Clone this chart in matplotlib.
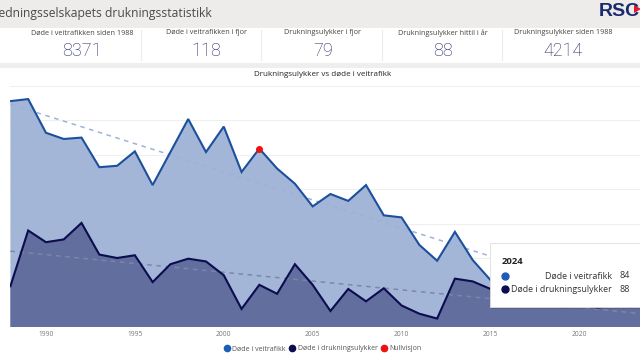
import numpy as np
import matplotlib
matplotlib.use("Agg")
import matplotlib.pyplot as plt
from matplotlib.patches import Rectangle, Polygon
from matplotlib.lines import Line2D

plt.rcParams['font.family'] = ['Open Sans', 'DejaVu Sans']

# ---------------- data ----------------
years = list(range(1988, 2025))
road_deaths = [378, 381, 332, 323, 325, 282, 284, 305, 256, 304, 352, 304, 341, 275,
               309, 280, 258, 225, 243, 233, 256, 212, 209, 169, 146, 188, 147, 118,
               135, 106, 108, 108, 93, 80, 104, 118, 84]
drowning = [109, 190, 173, 177, 201, 155, 150, 154, 115, 141, 149, 145, 125, 76,
            111, 98, 141, 111, 73, 105, 87, 106, 81, 69, 62, 120, 116, 105,
            92, 88, 100, 79, 84, 78, 81, 79, 88]
nullvisjon_year = 2002
xtick_years = [1990, 1995, 2000, 2005, 2010, 2015, 2020]
ygrid_values = [100, 150, 200, 250, 300, 350, 400]

kpi_labels = ["Døde i veitrafikken siden 1988", "Døde i veitrafikken i fjor",
              "Drukningsulykker i fjor", "Drukningsulykker hittil i år",
              "Drukningsulykker siden 1988"]
kpi_values = [sum(road_deaths), road_deaths[-2], drowning[-2], drowning[-1], sum(drowning)]

series_names = ["Døde i veitrafikk", "Døde i drukningsulykker", "Nullvisjon"]

# ---------------- style ----------------
ROAD_LINE = '#1c4f9c'
ROAD_FILL = '#a3b6d8'
DROWN_LINE = '#0c0c4e'
DROWN_FILL = '#616e9e'
ROAD_DOT = '#1f5cb8'
W, H = 640, 360

fig = plt.figure(figsize=(6.4, 3.6), dpi=100)
fig.patch.set_facecolor('white')

def fx(px):
    return px / W

def fy(py):
    return 1 - py / H

# header band
fig.add_artist(Rectangle((0, fy(28)), 1, 28 / H, transform=fig.transFigure,
                         facecolor='#edecea', edgecolor='none', zorder=0))
fig.add_artist(Rectangle((0, fy(68)), 1, 5 / H, transform=fig.transFigure,
                         facecolor='#efeeec', edgecolor='none', zorder=0))
fig.text(fx(212), fy(14), "Redningsselskapets drukningsstatistikk", ha='right', va='center',
         fontsize=8.7, color='#4a4a4a')
fig.text(fx(599), fy(11), "RSC", ha='left', va='center', fontsize=14, fontweight='bold',
         color='#1b2a6e', family=['Liberation Sans', 'DejaVu Sans'])
fig.add_artist(Polygon([[fx(634), fy(5)], [fx(641), fy(9)], [fx(634), fy(13)]],
                       closed=True, transform=fig.transFigure, facecolor='#e4172b',
                       edgecolor='none'))

# KPI row
kpi_centers = [82, 206, 323, 443, 563]
for cx, lab, val in zip(kpi_centers, kpi_labels, kpi_values):
    fig.text(fx(cx), fy(33), lab, ha='center', va='center', fontsize=5.2, color='#444444')
    fig.text(fx(cx), fy(51), f"{val}", ha='center', va='center', fontsize=13,
             color='#1e2160', fontweight='light', family=['Roboto', 'DejaVu Sans'])
for sx in [141, 261, 382, 502]:
    fig.add_artist(Line2D([fx(sx), fx(sx)], [fy(30), fy(60)], transform=fig.transFigure,
                          color='#ececec', lw=0.8))

# chart title
fig.text(fx(323), fy(75), "Drukningsulykker vs døde i veitrafikk", ha='center', va='center',
         fontsize=5.8, color='#252423')

# ---------------- chart ----------------
ax = fig.add_axes([fx(10.4), (H - 326.8) / H, 640.1 / W, 240.8 / H])
ax.set_xlim(years[0], years[-1])
ax.set_ylim(50, 400)
ax.set_facecolor('none')
for s in ax.spines.values():
    s.set_visible(False)
ax.set_yticks(ygrid_values)
ax.set_yticklabels([])
ax.tick_params(axis='y', length=0)
ax.yaxis.grid(True, color='#efefef', lw=0.8)
ax.set_axisbelow(True)
ax.set_xticks(xtick_years)
ax.set_xticklabels([str(y) for y in xtick_years], fontsize=4.8, color='#777777')
ax.tick_params(axis='x', length=0, pad=3)

yr = np.array(years)
ax.fill_between(yr, road_deaths, 0, color=ROAD_FILL, lw=0, zorder=1)
ax.fill_between(yr, drowning, 0, color=DROWN_FILL, lw=0, zorder=2)
ax.plot(yr, road_deaths, color=ROAD_LINE, lw=1.5, zorder=4, solid_joinstyle='miter')
ax.plot(yr, drowning, color=DROWN_LINE, lw=1.5, zorder=4, solid_joinstyle='miter')

# trend lines
for vals, col in [(road_deaths, '#9db2d8'), (drowning, '#7c86ac')]:
    k, m = np.polyfit(yr, vals, 1)
    ax.plot(yr, k * yr + m, color=col, lw=1.1, ls=(0, (3, 3)), zorder=3)

# nullvisjon marker
ni = years.index(nullvisjon_year)
ax.plot([nullvisjon_year], [road_deaths[ni]], 'o', color='#ee1111', ms=4, zorder=5)

# legend
handles = [Line2D([], [], ls='none', marker='o', color=c, ms=4.5)
           for c in [ROAD_DOT, DROWN_LINE, '#ee1111']]
fig.legend(handles, series_names, loc='center', bbox_to_anchor=(fx(323), fy(349)), ncol=3,
           frameon=False, fontsize=5, handletextpad=0.5, columnspacing=0.6,
           handlelength=0.6, labelcolor='#555555')

# tooltip for last year
tx0, ty0, tx1, ty1 = 490, 243, 648, 307
fig.add_artist(Rectangle((fx(tx0 + 1), fy(ty1 + 2)), (tx1 - tx0) / W, (ty1 - ty0) / H,
                         transform=fig.transFigure, facecolor='#000000', alpha=0.12,
                         edgecolor='none', zorder=9))
fig.add_artist(Rectangle((fx(tx0), fy(ty1)), (tx1 - tx0) / W, (ty1 - ty0) / H,
                         transform=fig.transFigure, facecolor='white', edgecolor='#dddddd',
                         lw=0.6, zorder=10))
fig.text(fx(502), fy(261), f"{years[-1]}", ha='left', va='center', fontsize=6.8,
         fontweight='bold', color='#252423', zorder=11)
for row_y, col, name, val in [(276, ROAD_DOT, series_names[0], road_deaths[-1]),
                              (289, DROWN_LINE, series_names[1], drowning[-1])]:
    fig.add_artist(Line2D([fx(505)], [fy(row_y)], transform=fig.transFigure, ls='none',
                          marker='o', ms=5, color=col, zorder=11))
    fig.text(fx(612), fy(row_y), name, ha='right', va='center', fontsize=6.4,
             color='#333333', zorder=11)
    fig.text(fx(620), fy(row_y), f"{val}", ha='left', va='center', fontsize=6.4,
             color='#333333', zorder=11)

fig.savefig("out.png", dpi=100)
